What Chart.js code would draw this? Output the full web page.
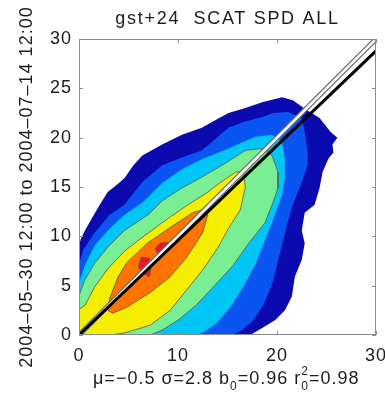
<!DOCTYPE html>
<html>
<head>
<meta charset="utf-8">
<script src="https://cdn.jsdelivr.net/npm/chart.js@4.4.1/dist/chart.umd.min.js"></script>
<style>
  html, body { margin: 0; padding: 0; background: #fff; }
</style>
</head>
<body>
<canvas id="scat" width="385" height="393"></canvas>
<script>
const titleText = "gst+24  SCAT SPD ALL";
const yTitle = "2004\u201305\u201330 12:00 to 2004\u201307\u201314 12:00";
const xTicks = [0, 10, 20, 30];
const yTicks = [0, 5, 10, 15, 20, 25, 30];

// stats line under the x axis: text pieces with subscript / superscript between them
const statText = ["\u03bc=\u22120.5 \u03c3=2.8 b", "=0.96 r", "=0.98"];
const statSub = ["0", "0"];
const statSup = ["", "2"];

const fitSlope = 0.96;

// filled density contours, outermost first (x, y in m/s)
const levelDarkBlue = [[0,0],[0,9.1],[0.2,9.8],[0.6,10.6],[1.4,12.0],[2.1,13.2],[2.9,14.5],[3.8,15.2],[4.6,15.9],[5.5,17.2],[6.4,18.2],[8.4,19.3],[10.4,20.3],[12.4,21.0],[13.8,21.8],[15.1,22.5],[16.8,23.0],[18.5,23.6],[20.5,24.1],[21.6,23.8],[23.0,22.8],[24.3,22.0],[25.4,20.6],[26.1,20.0],[25.6,19.3],[25.7,18.5],[25.2,17.9],[24.6,16.5],[24.3,14.9],[23.8,13.2],[22.8,12.4],[22.5,10.6],[22.8,9.3],[22.5,7.6],[21.8,5.9],[21.5,3.9],[20.8,2.5],[19.8,1.5],[18.5,0.7],[17.3,0]];
const levelBlue = [[0,0],[0,7.1],[0.4,8.6],[1.6,10.4],[3.1,12.2],[4.6,13.2],[6.4,15.5],[8.4,17.2],[10.4,18.0],[12.4,18.7],[15.1,21.0],[16.6,21.6],[18.5,22.1],[19.6,22.5],[21.1,22.6],[22.5,22.0],[22.8,20.6],[23.1,18.5],[23.1,17.2],[22.4,15.2],[21.6,13.2],[21.0,11.1],[20.5,9.1],[20.0,7.1],[19.5,5.1],[18.6,3.0],[17.6,1.5],[16.5,0.5],[15.5,0]];
const levelCyan = [[0,0],[0,5.3],[0.6,7.1],[1.6,9.1],[3.1,10.8],[4.6,12.2],[6.4,13.4],[8.4,15.4],[10.4,16.8],[12.4,17.8],[15.1,18.9],[17.8,20.1],[19.5,20.3],[20.5,19.6],[20.8,17.9],[20.8,15.9],[20.5,14.2],[19.8,12.2],[18.8,9.6],[17.8,7.1],[16.6,4.9],[15.3,2.8],[14.0,1.3],[12.8,0.4],[12.0,0]];
const levelGreen = [[0,0],[0,4.0],[0.6,5.6],[1.6,7.3],[2.9,8.9],[4.6,10.6],[7.0,12.2],[8.4,13.6],[10.4,14.9],[12.4,16.0],[15.1,17.6],[16.8,18.7],[18.5,18.9],[19.5,18.2],[20.1,16.5],[20.1,14.9],[19.5,13.2],[18.8,11.4],[17.0,9.1],[15.6,7.1],[13.6,4.9],[11.8,3.0],[10.0,1.5],[8.4,0.5],[7.2,0]];
const levelYellow = [[0,0],[0,2.6],[0.6,3.0],[1.6,4.9],[2.9,6.7],[4.6,8.5],[6.4,9.9],[8.7,11.6],[11.0,13.2],[12.9,14.4],[14.2,15.4],[15.8,16.5],[16.6,16.6],[16.8,15.0],[16.3,12.7],[15.1,10.8],[14.0,8.8],[12.5,6.6],[10.9,4.6],[9.2,2.5],[7.2,1.0],[4.6,0.2],[3.1,0]];
const levelOrange = [[2.9,2.5],[3.1,3.7],[3.9,5.8],[4.8,7.3],[6.9,9.3],[9.2,10.9],[11.5,12.4],[12.5,12.7],[13.0,12.2],[12.5,10.4],[10.9,7.9],[9.2,5.9],[7.2,4.3],[4.8,2.8],[3.4,2.2]];
const levelRedA = [[6.3,7.9],[7.1,7.8],[7.3,6.9],[7.1,5.9],[6.4,6.3],[6.0,6.9]];
const levelRedB = [[7.7,8.8],[8.2,9.3],[8.9,9.4],[9.2,9.1],[8.7,8.4],[8.0,8.1]];

const levels = [levelDarkBlue, levelBlue, levelCyan, levelGreen, levelYellow, levelOrange, levelRedA, levelRedB];
const levelColors = ["#0a0aae", "#0a55f2", "#00c6f6", "#7aee92", "#f6ee00", "#ff7300", "#f01428", "#f01428"];
const outlined = [false, false, false, true, true, true, true, true];

const font = "'Liberation Sans', Arial, Helvetica, sans-serif";
const textColor = "#1c1c1c";

const toPts = (arr) => arr.concat([arr[0]]).map(([x, y]) => ({ x, y }));

const datasets = levels.map((pts, i) => ({
  data: toPts(pts),
  showLine: true,
  fill: "shape",
  backgroundColor: levelColors[i],
  borderColor: outlined[i] ? "#555" : levelColors[i],
  borderWidth: outlined[i] ? 0.8 : 0,
  tension: 0,
  pointRadius: 0,
  order: 30 - i,
}));

// 1:1 line (gray edges, white core) and fitted line
datasets.push({ data: [{ x: 0, y: 0 }, { x: 30, y: 30 }], showLine: true, borderColor: "#6e6e6e", borderWidth: 5, pointRadius: 0, order: 4 });
datasets.push({ data: [{ x: 0, y: 0 }, { x: 30, y: 30 }], showLine: true, borderColor: "#ffffff", borderWidth: 2.5, pointRadius: 0, order: 3 });
datasets.push({ data: [{ x: 0, y: 0 }, { x: 30, y: 30 * fitSlope }], showLine: true, borderColor: "#000", borderWidth: 3, pointRadius: 0, order: 1 });

const frame = {
  id: "frame",
  beforeDraw(chart) {
    chart.ctx.letterSpacing = "1px";
  },
  afterDraw(chart) {
    const { ctx, chartArea: a, scales } = chart;
    const x = scales.x, y = scales.y;
    ctx.save();
    ctx.strokeStyle = "#8c8c8c";
    ctx.lineWidth = 1;
    ctx.strokeRect(a.left + 0.5, a.top + 0.5, a.right - a.left - 1, a.bottom - a.top - 1);
    ctx.beginPath();
    xTicks.forEach((v) => {
      const px = Math.round(x.getPixelForValue(v)) + 0.5;
      ctx.moveTo(px, a.bottom); ctx.lineTo(px, a.bottom - 4);
      ctx.moveTo(px, a.top); ctx.lineTo(px, a.top + 4);
    });
    yTicks.forEach((v) => {
      const py = Math.round(y.getPixelForValue(v)) + 0.5;
      ctx.moveTo(a.left, py); ctx.lineTo(a.left + 4, py);
      ctx.moveTo(a.right, py); ctx.lineTo(a.right - 4, py);
    });
    ctx.stroke();

    ctx.fillStyle = textColor;

    // title, centred over the plot
    ctx.font = "18px " + font;
    ctx.letterSpacing = "1.7px";
    ctx.textAlign = "center";
    ctx.textBaseline = "middle";
    ctx.fillText(titleText, (a.left + a.right) / 2, 19);

    // stats line with sub/superscripts
    ctx.textBaseline = "alphabetic";
    ctx.textAlign = "left";
    ctx.letterSpacing = "1px";
    let cx = 93;
    const base = 384;
    statText.forEach((t, i) => {
      ctx.font = "18px " + font;
      ctx.fillText(t, cx, base);
      cx += ctx.measureText(t).width;
      if (i < statSub.length) {
        ctx.font = "12px " + font;
        ctx.fillText(statSub[i], cx, base + 6);
        let w = ctx.measureText(statSub[i]).width;
        if (statSup[i]) {
          ctx.fillText(statSup[i], cx, base - 9);
          w = Math.max(w, ctx.measureText(statSup[i]).width);
        }
        cx += w;
      }
    });
    ctx.restore();
  },
};

new Chart(document.getElementById("scat"), {
  type: "scatter",
  data: { datasets },
  options: {
    responsive: false,
    animation: false,
    events: [],
    layout: { padding: { right: 9, left: 0, top: 39, bottom: 0 } },
    plugins: {
      legend: { display: false },
      tooltip: { enabled: false },
      title: { display: false },
    },
    scales: {
      x: {
        type: "linear",
        min: 0,
        max: 30,
        ticks: { stepSize: 10, color: textColor, padding: 10, font: { family: font, size: 18 } },
        grid: { display: false, drawTicks: false },
        border: { display: false },
        afterFit(s) { s.height = 58; s.paddingLeft = 0; s.paddingRight = 0; },
      },
      y: {
        type: "linear",
        min: 0,
        max: 30,
        ticks: { stepSize: 5, color: textColor, padding: 7, font: { family: font, size: 18 } },
        grid: { display: false, drawTicks: false },
        border: { display: false },
        title: {
          display: true,
          text: yTitle,
          color: textColor,
          font: { family: font, size: 18 },
          padding: { top: 16, bottom: 0 },
        },
        afterFit(s) { s.width = 79; s.paddingTop = 0; s.paddingBottom = 0; },
      },
    },
  },
  plugins: [frame],
});
</script>
</body>
</html>
